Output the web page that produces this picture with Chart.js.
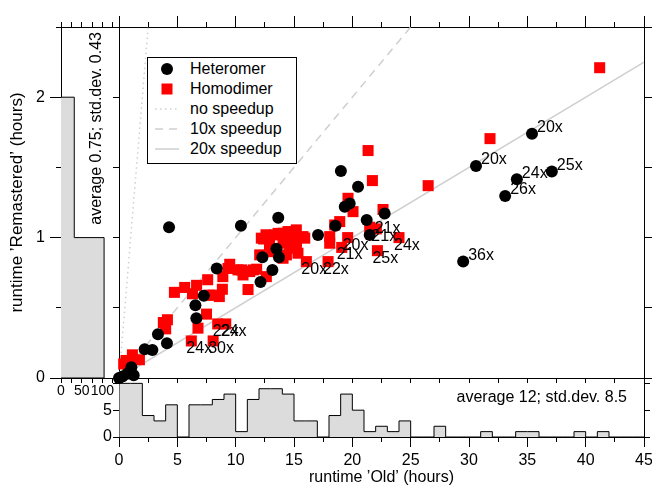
<!DOCTYPE html>
<html>
<head>
<meta charset="utf-8">
<title>runtime Old vs Remastered</title>
<script src="https://cdn.jsdelivr.net/npm/chart.js@4.4.1/dist/chart.umd.min.js"></script>
<style>
  html, body { margin:0; padding:0; background:#fff; overflow:hidden; }
  #stage { position:relative; width:652px; height:487px; }
  #stage canvas { position:absolute; left:0; top:0; }
  #legend { position:absolute; left:147px; top:57px; width:148px; height:105px; border:1px solid #000; background:#fff;
            font-family:"Liberation Sans", Arial, Helvetica, sans-serif; font-size:16px; color:#000; }
  #legend .row { position:absolute; left:0; width:148px; height:20px; line-height:20px; white-space:nowrap; }
  #legend .sym { position:absolute; left:7px; top:0; width:24px; height:20px; }
  #legend .txt { position:absolute; left:42px; top:0; }
</style>
</head>
<body>
<div id="stage">
  <canvas id="leftHist" width="652" height="487"></canvas>
  <canvas id="bottomHist" width="652" height="487"></canvas>
  <canvas id="main" width="652" height="487"></canvas>
  <div id="legend"></div>
</div>
<script>
// ================= DATA =================
// Heteromer: runtime 'Old' (hours) vs runtime 'Remastered' (hours)
const heteroX = [0.0, 0.3, 0.7, 1.06, 1.26, 2.2, 2.86, 3.34, 4.11, 4.29, 6.55, 6.63, 7.27, 8.38, 10.45, 12.13, 12.29, 13.15, 13.49, 13.71, 13.65, 17.06, 18.55, 19.02, 19.35, 19.77, 20.49, 21.23, 21.49, 22.77, 29.5, 30.6, 33.1, 34.1, 35.4, 37.1];
const heteroY = [0.0, 0.01, 0.03, 0.077, 0.02, 0.205, 0.2, 0.312, 0.248, 1.074, 0.518, 0.426, 0.585, 0.78, 1.085, 0.684, 0.86, 0.77, 0.92, 0.86, 1.142, 1.019, 1.085, 1.474, 1.22, 1.243, 1.363, 1.126, 1.019, 1.172, 0.83, 1.51, 1.297, 1.416, 1.74, 1.47];
const heteroLabel = ['', '', '', '', '', '', '', '', '', '', '', '', '', '', '', '', '', '', '', '', '', '', '', '', '', '', '', '', '21x', '', '36x', '20x', '26x', '24x', '20x', '25x'];

// Homodimer
const homoX = [0.4, 0.6, 1.0, 1.15, 1.75,
  3.8, 4.15, 4.0, 4.75,
  5.63, 6.2, 6.77, 6.65, 6.3,
  7.5, 8.07, 8.46, 9.15, 7.6, 8.06, 8.6, 8.86, 7.75, 8.9, 9.34, 9.49,
  10.2, 10.5, 10.63, 10.92, 11.06, 11.2, 11.5, 11.8,
  12.06, 12.2, 12.4, 12.63, 12.9, 13.35, 13.63, 14.06, 14.06, 14.06, 14.35, 14.49, 14.63, 14.92, 15.06, 15.2, 15.2, 15.2, 15.34, 15.77, 15.92, 16.06, 13.0, 12.6,
  17.92, 18.06, 18.06, 18.49, 18.92, 19.6, 19.09, 19.63, 20.06, 21.35, 21.72, 21.49, 22.06, 22.63, 22.15, 24.0,
  26.5, 31.8, 41.2];
const homoY = [0.10, 0.125, 0.12, 0.165, 0.13,
  0.395, 0.415, 0.35, 0.61,
  0.645, 0.264, 0.355, 0.66, 0.6,
  0.455, 0.264, 0.385, 0.385, 0.70, 0.59, 0.58, 0.632, 0.59, 0.722, 0.78, 0.81,
  0.77, 0.77, 0.734, 0.76, 0.63, 0.758, 0.77, 0.775,
  0.877, 0.996, 0.99, 0.722, 0.95, 1.019, 1.03, 1.031, 0.96, 0.853, 0.877, 1.043, 0.936, 0.984, 1.043, 1.055, 0.971, 0.924, 0.889, 1.007, 0.996, 0.829, 0.9, 1.02,
  0.829, 1.007, 0.96, 1.09, 1.114, 1.0, 0.93, 1.28, 1.185, 1.62, 1.406, 1.074, 1.062, 1.2, 0.907, 1.0,
  1.37, 1.705, 2.21];
const homoLabel = ['', '', '', '', '',
  '', '', '', '',
  '', '24x', '', '', '',
  '', '30x', '22x', '24x', '', '', '', '', '', '', '', '',
  '', '', '', '', '', '', '', '',
  '', '', '', '', '', '', '', '', '', '', '', '', '', '', '', '', '', '', '', '', '', '20x', '', '',
  '22x', '', '', '', '', '20x', '21x', '', '', '', '', '', '21x', '', '25x', '24x',
  '', '', ''];

// Reference speed-up lines (Remastered = Old / factor)
const speedupFactors = [1, 10, 20];
const speedupNames = ['no speedup', '10x speedup', '20x speedup'];

// Histogram of 'Old' runtime, 1-hour bins from 0 to 45
const oldHistCounts = [10, 10, 4, 3, 6, 0, 6, 6, 7, 8, 1, 7, 9, 9, 8, 3, 3, 0, 4, 8, 5, 1, 2, 1, 3, 0, 0, 2, 0, 0, 0, 1, 0, 0, 1, 1, 0, 0, 0, 1, 0, 1, 0, 0, 0];
// Histogram of 'Remastered' runtime, 1-hour bins: 0-1, 1-2
const remHistCounts = [104, 32];
const oldStatsText = 'average 12; std.dev. 8.5';
const remStatsText = 'average 0.75; std.dev. 0.43';

const xTitle = 'runtime \u2019Old\u2019 (hours)';
const yTitle = 'runtime \u2019Remastered\u2019 (hours)';

// ================= STYLE / SETUP =================
const FONT = '"Liberation Sans", Arial, Helvetica, sans-serif';
Chart.defaults.font.family = FONT;
Chart.defaults.font.size = 16;
Chart.defaults.color = '#000';
Chart.defaults.animation = false;
Chart.defaults.events = [];
Chart.defaults.plugins.legend.display = false;
Chart.defaults.plugins.tooltip.enabled = false;

function frameAxis(o) {
  const ticks = { display: !!o.label, stepSize: o.step, autoSkip: false, includeBounds: false,
                  padding: (o.pad !== undefined ? o.pad : 3), maxRotation: 0, minRotation: 0 };
  if (o.label) ticks.callback = o.label;
  if (o.tickFont) ticks.font = o.tickFont;
  const cfg = {
    type: 'linear', position: o.position, min: o.min, max: o.max, weight: o.weight || 0,
    ticks,
    grid: { display: true, drawOnChartArea: false, drawTicks: true, tickLength: o.tick,
            color: '#000', tickColor: '#000', tickWidth: 1 },
    border: { display: true, color: '#000', width: 1 },
    afterFit: s => {
      if (s.isHorizontal()) s.height = o.size; else s.width = o.size;
      s.paddingLeft = 0; s.paddingRight = 0; s.paddingTop = 0; s.paddingBottom = 0;
    }
  };
  if (o.title) cfg.title = { display: true, text: o.title, font: { size: o.titleSize || 16 }, padding: o.titlePad };
  return cfg;
}

const pointLabelPlugin = {
  id: 'pointLabels',
  afterDatasetsDraw(chart) {
    const ctx = chart.ctx;
    ctx.save();
    ctx.font = '16px ' + FONT;
    ctx.fillStyle = '#000';
    ctx.textBaseline = 'middle';
    ctx.textAlign = 'left';
    chart.data.datasets.forEach((ds, i) => {
      if (!ds.pointLabels) return;
      const meta = chart.getDatasetMeta(i);
      meta.data.forEach((pt, j) => {
        const t = ds.pointLabels[j];
        if (t) ctx.fillText(t, pt.x + ds.labelOffset[0], pt.y + ds.labelOffset[1]);
      });
    });
    ctx.restore();
  }
};

const statsTextPlugin = {
  id: 'statsText',
  afterDraw(chart, args, opts) {
    const { ctx, chartArea } = chart;
    ctx.save();
    ctx.font = '16px ' + FONT;
    ctx.fillStyle = '#000';
    ctx.textAlign = 'right';
    ctx.textBaseline = 'middle';
    ctx.translate(chartArea.right + opts.dx, chartArea.top + opts.dy);
    if (opts.vertical) ctx.rotate(-Math.PI / 2);
    ctx.fillText(opts.text, 0, 0);
    ctx.restore();
  }
};

// ================= LEFT HISTOGRAM (Remastered) =================
const remPolygon = [{ x: 0, y: 0 }];
remHistCounts.forEach((c, i) => { remPolygon.push({ x: c, y: i }); remPolygon.push({ x: c, y: i + 1 }); });
remPolygon.push({ x: 0, y: remHistCounts.length });

new Chart(document.getElementById('leftHist'), {
  type: 'scatter',
  data: { datasets: [{
    data: remPolygon, showLine: true, fill: 'shape', backgroundColor: '#dcdcdc',
    borderColor: '#000', borderWidth: 1, pointRadius: 0, tension: 0
  }]},
  options: {
    responsive: false,
    layout: { padding: { left: 0, right: 533, top: 17, bottom: 89 }, autoPadding: false },
    scales: {
      x: frameAxis({ position: 'bottom', min: 0, max: 140, step: 25, tick: 5, size: 20, pad: 0,
                     tickFont: { size: 14 },
                     label: v => (v % 50 === 0 ? String(v) : '') }),
      xTop: frameAxis({ position: 'top', min: 0, max: 140, step: 25, tick: 5, size: 10 }),
      y: frameAxis({ position: 'left', min: 0, max: 2.5, step: 1, tick: 11, size: 61, weight: 1, pad: 5,
                     label: v => String(v), title: yTitle, titleSize: 17, titlePad: { top: 7, bottom: 0 } }),
      yMinor: frameAxis({ position: 'left', min: 0, max: 2.5, step: 0.5, tick: 5, size: 0, weight: 0 })
    },
    plugins: { statsText: { text: remStatsText, vertical: true, dx: -22, dy: 5 } }
  },
  plugins: [statsTextPlugin]
});

// ================= BOTTOM HISTOGRAM (Old) =================
const oldSteps = [{ x: 0, y: 0 }];
oldHistCounts.forEach((c, i) => oldSteps.push({ x: i, y: c }));
oldSteps.push({ x: oldHistCounts.length, y: 0 });

new Chart(document.getElementById('bottomHist'), {
  type: 'scatter',
  data: { datasets: [{
    data: oldSteps, showLine: true, stepped: 'before', fill: 'origin', backgroundColor: '#dcdcdc',
    borderColor: '#000', borderWidth: 1, pointRadius: 0
  }]},
  options: {
    responsive: false,
    layout: { padding: { left: 0, right: 0, top: 378, bottom: 0 }, autoPadding: false },
    scales: {
      x: frameAxis({ position: 'bottom', min: 0, max: 45, step: 5, tick: 10, size: 50, weight: 1, pad: 4,
                     label: v => String(v), title: xTitle, titlePad: { top: 0, bottom: 0 } }),
      xMinor: frameAxis({ position: 'bottom', min: 0, max: 45, step: 2.5, tick: 5, size: 0, weight: 0 }),
      y: frameAxis({ position: 'left', min: 0, max: 11, step: 5, tick: 6, size: 119, pad: 1,
                     label: v => (v <= 5 ? String(v) : '') }),
      yRight: frameAxis({ position: 'right', min: 0, max: 11, step: 5, tick: 6, size: 8 })
    },
    plugins: { statsText: { text: oldStatsText, vertical: false, dx: -17, dy: 20 } }
  },
  plugins: [statsTextPlugin]
});

// ================= MAIN SCATTER =================
const dashes = [[1.5, 3.5], [8, 6], []];
const mainChart = new Chart(document.getElementById('main'), {
  type: 'scatter',
  data: { datasets: [
    { label: 'Heteromer', data: heteroX.map((x, i) => ({ x, y: heteroY[i] })),
      pointStyle: 'circle', pointRadius: 6, backgroundColor: '#000', borderColor: '#000', borderWidth: 0,
      clip: false, pointLabels: heteroLabel, labelOffset: [5, -6] },
    { label: 'Homodimer', data: homoX.map((x, i) => ({ x, y: homoY[i] })),
      pointStyle: 'rect', pointRadius: 7.8, backgroundColor: '#ff0000', borderColor: '#ff0000', borderWidth: 0,
      clip: false, pointLabels: homoLabel, labelOffset: [-5, 7.5] },
    ...speedupFactors.map((k, i) => ({
      label: speedupNames[i], data: [{ x: 0, y: 0 }, { x: 45, y: 45 / k }],
      showLine: true, pointRadius: 0, borderColor: '#cfcfcf', backgroundColor: '#cfcfcf',
      borderWidth: 1.5, borderDash: dashes[i], fill: false, clip: 0
    }))
  ]},
  options: {
    responsive: false,
    layout: { padding: { left: 109, right: 0, top: 17, bottom: 99 }, autoPadding: false },
    scales: {
      x: frameAxis({ position: 'bottom', min: 0, max: 45, step: 2.5, tick: 5, size: 10 }),
      xTop: frameAxis({ position: 'top', min: 0, max: 45, step: 5, tick: 11, size: 10, weight: 1 }),
      xTopMinor: frameAxis({ position: 'top', min: 0, max: 45, step: 2.5, tick: 5, size: 0, weight: 0 }),
      y: frameAxis({ position: 'left', min: 0, max: 2.5, step: 0.5, tick: 6, size: 10 }),
      yRight: frameAxis({ position: 'right', min: 0, max: 2.5, step: 0.5, tick: 8, size: 8 })
    }
  },
  plugins: [pointLabelPlugin]
});

// ================= LEGEND (HTML, generated from datasets) =================
(function buildLegend(chart) {
  const el = document.getElementById('legend');
  chart.data.datasets.forEach((ds, i) => {
    const row = document.createElement('div');
    row.className = 'row';
    row.style.top = (1 + 20 * i) + 'px';
    let svg;
    if (ds.pointStyle === 'circle') {
      svg = '<svg width="24" height="20"><circle cx="12" cy="10" r="6" fill="' + ds.backgroundColor + '"/></svg>';
    } else if (ds.pointStyle === 'rect') {
      svg = '<svg width="24" height="20"><rect x="6.5" y="4.5" width="11" height="11" fill="' + ds.backgroundColor + '"/></svg>';
    } else {
      const da = ds.borderDash.length ? ' stroke-dasharray="' + ds.borderDash.join(' ') + '"' : '';
      svg = '<svg width="24" height="20"><line x1="0" y1="10" x2="24" y2="10" stroke="' + ds.borderColor +
            '" stroke-width="' + ds.borderWidth + '"' + da + '/></svg>';
    }
    row.innerHTML = '<span class="sym">' + svg + '</span><span class="txt"></span>';
    row.querySelector('.txt').textContent = ds.label;
    el.appendChild(row);
  });
})(mainChart);
</script>
</body>
</html>
